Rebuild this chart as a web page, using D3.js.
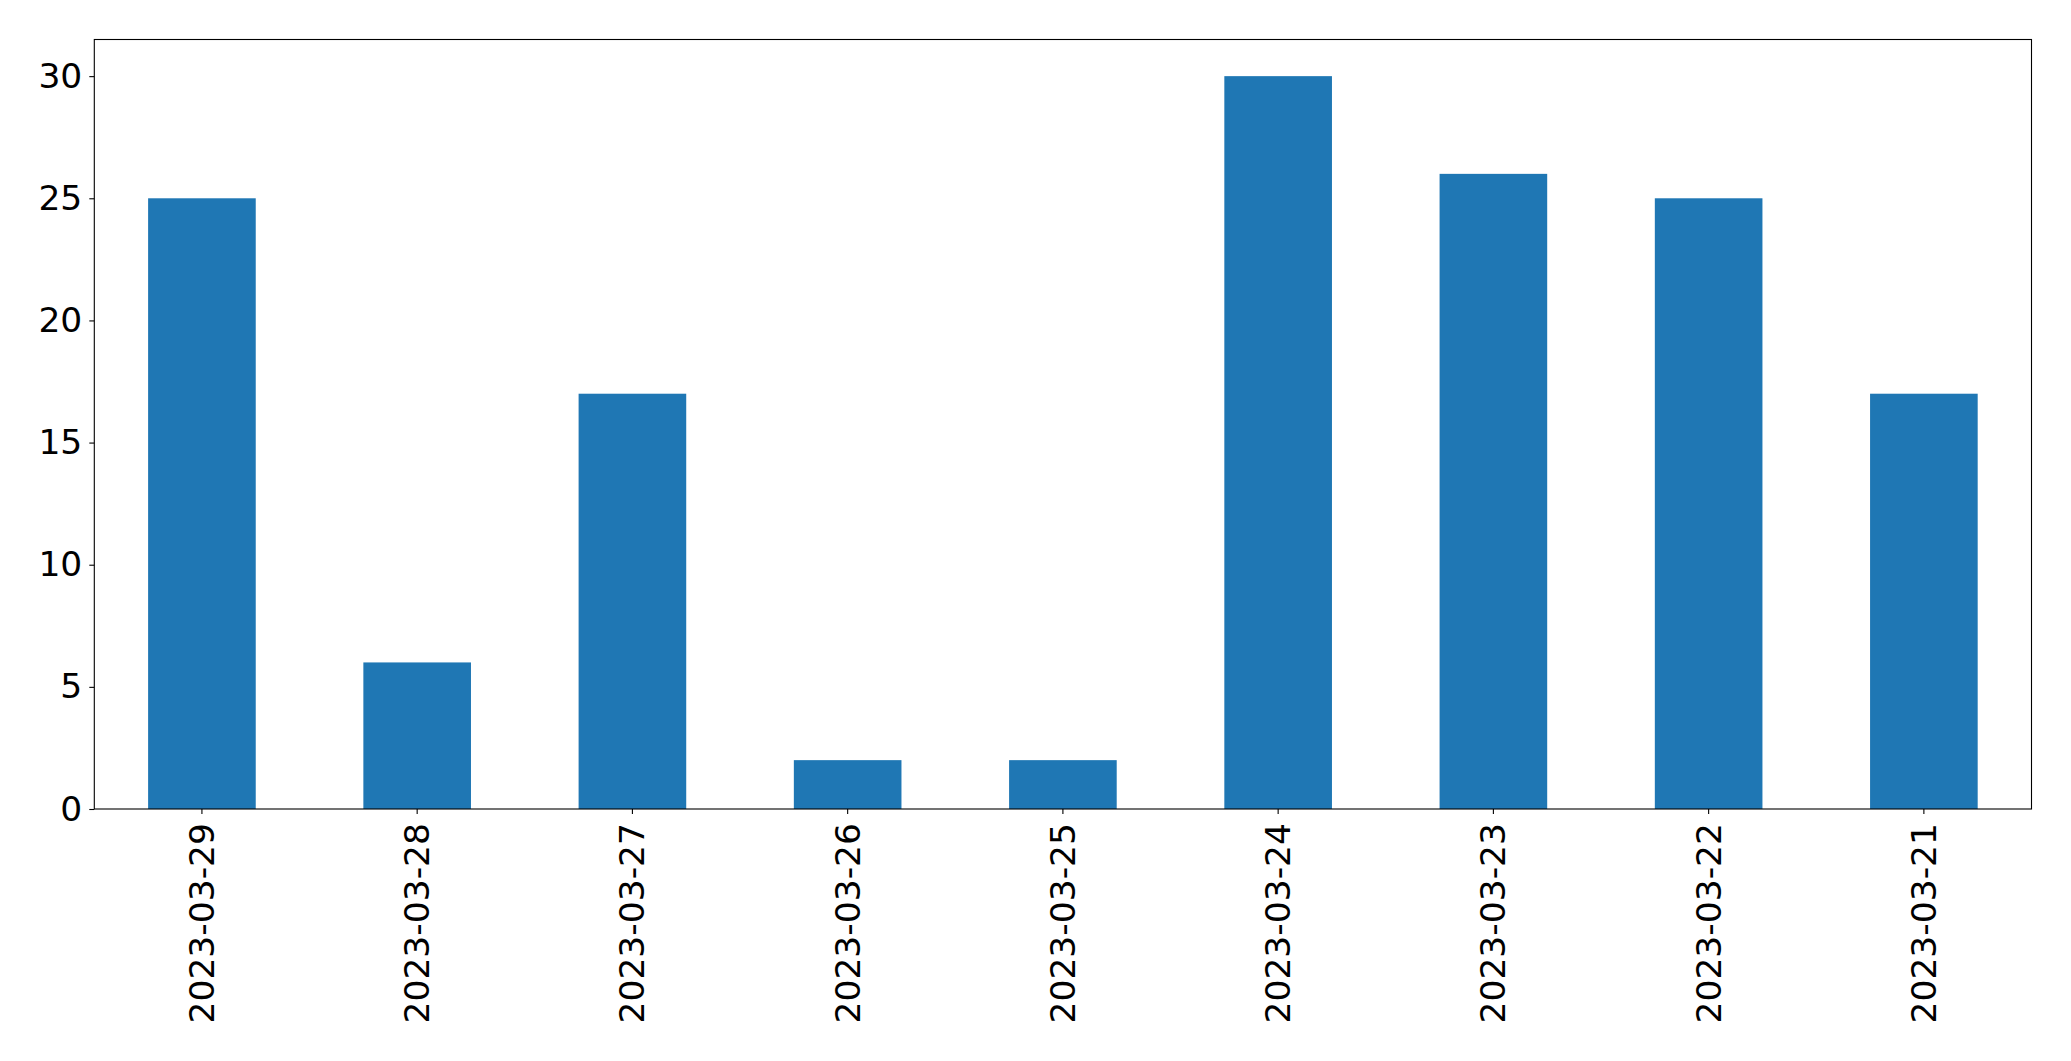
<!DOCTYPE html>
<html><head><meta charset="utf-8">
<script src="https://cdn.jsdelivr.net/npm/d3@7"></script>
<style>body{margin:0;background:#fff;} svg{display:block;}</style>
</head><body>
<script>
const categories = ["2023-03-29","2023-03-28","2023-03-27","2023-03-26","2023-03-25","2023-03-24","2023-03-23","2023-03-22","2023-03-21"];
const values = [25, 6, 17, 2, 2, 30, 26, 25, 17];
const yTicks = [0, 5, 10, 15, 20, 25, 30];

const W = 2071, H = 1061;
const m = {left: 94.3, right: 2031.5, top: 39.5, bottom: 809};
const fontSize = 34.5;
const svg = d3.select("body").append("svg").attr("width", W).attr("height", H)
  .style("font-family", "DejaVu Sans, sans-serif");

const x = d3.scaleBand().domain(categories).range([m.left, m.right]).paddingInner(0.5).paddingOuter(0.25);
const y = d3.scaleLinear().domain([0, 31.5]).range([m.bottom, m.top]);

svg.append("g").selectAll("rect").data(values).join("rect")
  .attr("x", (d,i) => x(categories[i]))
  .attr("width", x.bandwidth())
  .attr("y", d => y(d))
  .attr("height", d => y(0) - y(d))
  .attr("fill", "#1f77b4");

// axes
const yAxis = d3.axisLeft(y).tickValues(yTicks).tickSize(5).tickPadding(7).tickFormat(d3.format("d"));
const gy = svg.append("g").attr("transform", `translate(${m.left},0)`).call(yAxis);
gy.select(".domain").remove();
gy.selectAll("text").attr("font-size", fontSize).attr("fill", "#000").attr("font-family", "DejaVu Sans");
gy.selectAll("line").attr("stroke", "#000").attr("stroke-width", 1.1);

const xAxis = d3.axisBottom(x).tickSize(5).tickPadding(8);
const gx = svg.append("g").attr("transform", `translate(0,${m.bottom})`).call(xAxis);
gx.select(".domain").remove();
gx.selectAll("line").attr("stroke", "#000").attr("stroke-width", 1.1);
gx.selectAll("text")
  .attr("font-size", fontSize).attr("fill", "#000").attr("font-family", "DejaVu Sans")
  .attr("transform", "rotate(-90)")
  .attr("text-anchor", "end")
  .attr("x", -14).attr("y", 0).attr("dy", "0.35em");

// frame
svg.append("rect").attr("x", m.left).attr("y", m.top)
  .attr("width", m.right - m.left).attr("height", m.bottom - m.top)
  .attr("fill", "none").attr("stroke", "#000").attr("stroke-width", 1.1);
</script>
</body></html>
